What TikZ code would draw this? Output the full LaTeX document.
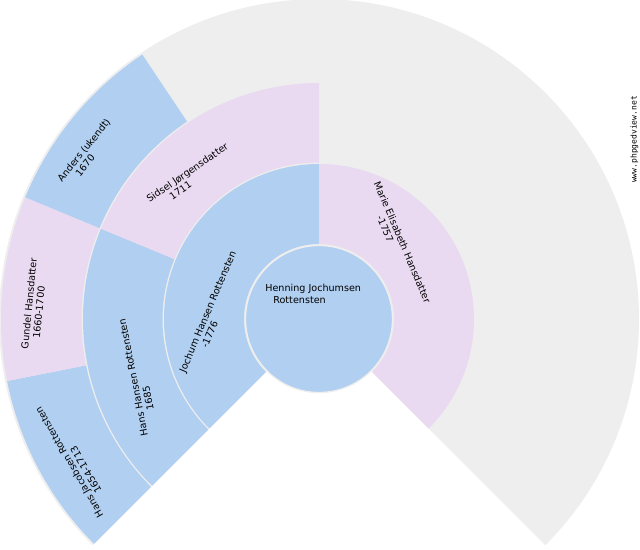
\documentclass[tikz,border=0pt]{standalone}
\usepackage{fontspec}
\setmainfont{DejaVu Sans}
\newfontfamily\webfont{DejaVu Sans Mono}

\definecolor{maleblue}{HTML}{B1CFF0}
\definecolor{femalepink}{HTML}{E9DAF1}
\definecolor{bggray}{HTML}{EEEEEE}

\tikzset{
  fantext/.style={font=\fontsize{7.2}{8}\selectfont, inner sep=0pt, align=center},
  webtext/.style={font=\webfont\fontsize{6}{7}\selectfont, inner sep=0pt},
}

% one piece of a ring: start angle, end angle, inner radius, outer radius, colour
\newcommand{\fanpart}[5]{%
  \fill[#5] (#1:#3) arc[start angle=#1, end angle=#2, radius=#3]
    -- (#2:#4) arc[start angle=#2, end angle=#1, radius=#4] -- cycle;}

\begin{document}
\begin{tikzpicture}[x=0.75pt, y=0.75pt]
\useasboundingbox (0,0) rectangle (640,550);

\begin{scope}[shift={(319,231)}]
% Fundo cinzento (antepassados desconhecidos)
\fill[bggray] (0,0) -- (-45:320) arc[start angle=-45, end angle=225, radius=320] -- cycle;

% Aneis 1 a 3
\foreach \a/\b/\ri/\ro/\c in {
    90/225/75/155/maleblue,       % pai
    -45/90/75/155/femalepink,     % mae
    157.5/225/156.5/236/maleblue, % avo paterno
    90/157.5/156.5/236/femalepink,% avo paterna
    191.25/225/237.5/318/maleblue,
    157.5/191.25/237.5/318/femalepink,
    123.75/157.5/237.5/318/maleblue} {
    \fanpart{\a}{\b}{\ri}{\ro}{\c}
}

% Centro
\filldraw[fill=maleblue, draw=bggray, line width=1] (0,0) circle[radius=73.5];
\end{scope}

% Nomes
\node[fantext, align=left, font=\fontsize{7.2}{8.6}\selectfont] (henning) at (313.2,256)
  {Henning Jochumsen\\\hspace*{6pt}Rottensten};

\node[fantext, rotate=67] (jochum) at (212.4,236.2)
  {Jochum Hansen Rottensten\\-1776\hspace*{30pt}};
\node[fantext, rotate=-67] (marie) at (397.6,305.7)
  {Marie Elisabeth Hansdatter\\-1757\hspace*{28.5pt}};
\node[fantext, rotate=101] (hans) at (138.5,173.5)
  {Hans Hansen Rottensten\\1685\hspace*{34pt}};
\node[fantext, rotate=34.5] (sidsel) at (190.2,373.1)
  {Sidsel Jørgensdatter\\1711\hspace*{23.5pt}};
\node[fantext, rotate=120] (jacobsen) at (73.8,90.2)
  {Hans Jacobsen Rottensten\\1654-1713\hspace*{22pt}};
\node[fantext, rotate=84.5] (gundel) at (34.3,246)
  {Gundel Hansdatter\\1660-1700\hspace*{12pt}};
\node[fantext, rotate=51] (anders) at (87.9,396.7)
  {Anders (ukendt)\\1670\hspace*{17pt}};

% Site
\node[webtext, rotate=90] (site) at (634.5,410.5) {www.phpgedview.net};
\end{tikzpicture}
\end{document}
